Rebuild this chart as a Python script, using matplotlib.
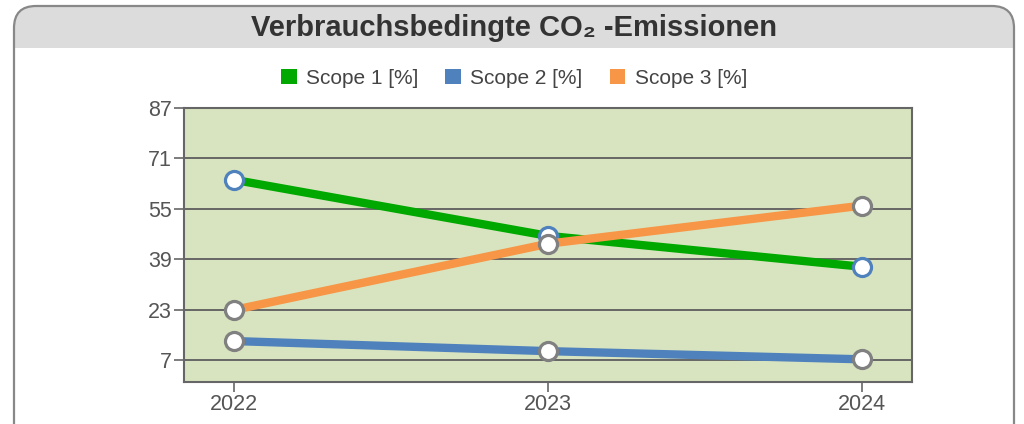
import matplotlib
matplotlib.use('Agg')
import matplotlib.pyplot as plt
from matplotlib.patches import FancyBboxPatch, Rectangle, Patch
from matplotlib.transforms import Affine2D

plt.rcParams['font.family'] = ['Liberation Sans', 'DejaVu Sans']

# data
years = ['2022', '2023', '2024']
scope1 = [64.2, 46.4, 36.6]
scope2 = [13.0, 9.8, 7.2]
scope3 = [22.9, 43.9, 56.0]
yticks = [7, 23, 39, 55, 71, 87]
labels = ['Scope 1 [%]', 'Scope 2 [%]', 'Scope 3 [%]']

green = '#00a800'
blue = '#4f81bd'
orange = '#f79646'
grey = '#666666'

W, H = 1024, 424
fig = plt.figure(figsize=(W / 100, H / 100), dpi=100)
px = Affine2D().scale(1 / W, 1 / H) + fig.transFigure

# panel with grey header band (kept behind the axes)
fig.patches.append(FancyBboxPatch((14, -60), 1000, H - 6 + 60,
                                  boxstyle='round,pad=0,rounding_size=22',
                                  facecolor='#dcdcdc', edgecolor='none',
                                  transform=px, figure=fig, zorder=-3))
fig.patches.append(Rectangle((15, -60), 998, H - 48 + 60, facecolor='white',
                             edgecolor='none', transform=px, figure=fig,
                             zorder=-2))
fig.patches.append(FancyBboxPatch((14, -60), 1000, H - 6 + 60,
                                  boxstyle='round,pad=0,rounding_size=22',
                                  facecolor='none', edgecolor='#888888',
                                  linewidth=1.6, transform=px, figure=fig,
                                  zorder=-1))

fig.text(514 / W, 1 - 28 / H, 'Verbrauchsbedingte CO\u2082 -Emissionen',
         ha='center', va='center', fontsize=21, fontweight='bold',
         color='#333333')

handles = [Patch(facecolor=c, edgecolor='none') for c in (green, blue, orange)]
fig.legend(handles=handles, labels=labels, loc='center',
           bbox_to_anchor=(514 / W, 1 - 78 / H), ncol=3, frameon=False,
           fontsize=15, labelcolor='#444444', handlelength=0.75,
           handleheight=0.75, handletextpad=0.45, columnspacing=1.3)

ax = fig.add_axes([184 / W, 1 - 382 / H, (912 - 184) / W, (382 - 108) / H])
ax.set_zorder(2)
ax.set_facecolor('#d8e4bf')
x = list(range(len(years)))

ax.plot(x, scope1, color=green, lw=6, marker='o', ms=13, mfc='white',
        mec=blue, mew=2.3, solid_capstyle='butt', zorder=3)
ax.plot(x, scope2, color=blue, lw=6, marker='o', ms=13, mfc='white',
        mec='#808080', mew=2.3, solid_capstyle='butt', zorder=3)
ax.plot(x, scope3, color=orange, lw=6, marker='o', ms=13, mfc='white',
        mec='#808080', mew=2.3, solid_capstyle='butt', zorder=3)

ax.set_xlim(-0.16, 2.16)
ax.set_ylim(0, 87)
ax.set_xticks(x)
ax.set_xticklabels(years)
ax.set_yticks(yticks)
ax.yaxis.grid(True, color=grey, lw=1.4)
ax.set_axisbelow(True)
for s in ax.spines.values():
    s.set_color(grey)
    s.set_linewidth(1.5)
ax.tick_params(colors=grey, labelcolor='#555555', labelsize=15.5, length=7,
               width=1.2, pad=1.5)

fig.savefig('out.png', dpi=100)
